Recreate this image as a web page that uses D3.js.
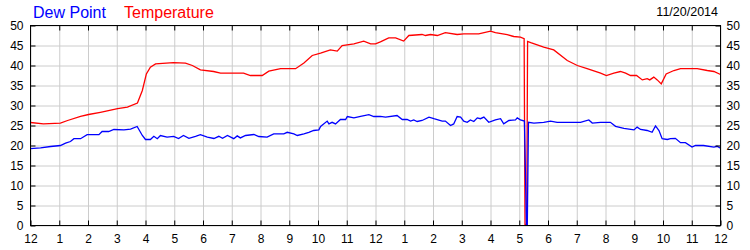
<!DOCTYPE html>
<html>
<head>
<meta charset="utf-8">
<title>Dew Point / Temperature</title>
<script src="https://cdn.jsdelivr.net/npm/d3@7"></script>
<style>
body { margin: 0; background: #fff; }
svg text { font-family: "Liberation Sans", Arial, sans-serif; fill: #000; }
</style>
</head>
<body>
<script>
// hour labels along the bottom (midnight to midnight)
var hourLabels = ["12","1","2","3","4","5","6","7","8","9","10","11",
                  "12","1","2","3","4","5","6","7","8","9","10","11","12"];
var yTicks = [0, 5, 10, 15, 20, 25, 30, 35, 40, 45, 50];
var dateLabel = "11/20/2014";

// [hour of day, °F]
var temperature = [
  [0.00,25.75],[0.45,25.4],[1.04,25.6],[1.29,26.25],[1.74,27.3],[2.02,27.75],
  [2.43,28.3],[3.03,29.2],[3.37,29.6],[3.72,30.6],[3.89,33.75],[4.03,37.9],
  [4.17,39.6],[4.35,40.4],[4.97,40.7],[5.39,40.6],[5.63,40.0],[5.91,38.9],
  [6.37,38.5],[6.61,38.1],[7.41,38.1],[7.65,37.5],[8.06,37.5],[8.29,38.6],
  [8.70,39.2],[9.22,39.2],[9.51,40.6],[9.80,42.5],[10.09,43.1],[10.43,43.9],
  [10.67,43.6],[10.84,45.0],[11.25,45.4],[11.59,46.1],[11.83,45.4],[12.00,45.4],
  [12.17,45.9],[12.46,46.9],[12.70,46.9],[12.98,46.1],[13.16,47.5],[13.62,47.75],
  [13.74,47.5],[13.91,47.75],[14.15,47.5],[14.43,48.2],[14.84,47.75],[15.07,47.9],
  [15.59,47.9],[16.00,48.6],[16.17,48.2],[16.58,47.7],[16.81,47.25],[17.04,47.1],
  [17.17,46.7],[17.20,0.3],[17.26,0.3],[17.29,46.0],[17.40,45.7],[17.85,44.6],
  [18.20,43.9],[18.67,41.25],[19.02,40.0],[19.36,39.2],[19.83,38.1],[20.03,37.5],
  [20.29,38.1],[20.52,38.5],[20.70,38.1],[20.87,37.5],[21.08,37.5],[21.28,36.4],
  [21.45,36.7],[21.54,36.4],[21.68,37.1],[21.80,36.4],[21.94,35.4],[22.11,37.9],
  [22.38,38.75],[22.61,39.2],[23.19,39.2],[23.54,38.75],[23.77,38.5],[24.00,37.75]
];

var dewPoint = [
  [0.00,19.2],[0.35,19.4],[0.70,19.75],[1.04,20.0],[1.22,20.6],[1.39,21.0],
  [1.51,21.7],[1.74,21.7],[1.97,22.7],[2.38,22.7],[2.49,23.5],[2.72,23.5],
  [2.90,24.0],[3.25,23.9],[3.48,24.1],[3.71,24.75],[3.89,22.5],[4.00,21.5],
  [4.17,21.5],[4.29,22.3],[4.41,21.7],[4.52,22.5],[4.75,22.1],[4.98,22.3],
  [5.15,21.75],[5.32,22.5],[5.51,21.8],[5.74,22.3],[5.91,22.7],[6.15,22.1],
  [6.38,21.75],[6.55,22.3],[6.68,21.8],[6.85,22.5],[7.07,21.7],[7.19,22.4],
  [7.30,21.9],[7.48,22.5],[7.77,22.75],[7.94,22.25],[8.23,22.1],[8.46,22.9],
  [8.81,22.9],[8.93,23.3],[9.16,22.9],[9.28,22.5],[9.51,22.9],[9.68,23.3],
  [9.85,23.75],[10.03,23.9],[10.09,24.75],[10.32,26.1],[10.38,25.4],[10.49,25.8],
  [10.61,25.4],[10.78,26.5],[10.96,26.5],[11.02,27.25],[11.25,26.9],[11.48,27.3],
  [11.77,27.7],[11.94,27.25],[12.17,27.3],[12.35,27.1],[12.75,27.5],[12.93,26.5],
  [13.10,26.5],[13.22,26.1],[13.33,26.4],[13.45,26.0],[13.62,26.25],[13.86,27.1],
  [14.03,26.7],[14.32,26.1],[14.43,26.1],[14.61,25.0],[14.72,25.4],[14.84,27.25],
  [14.96,27.1],[15.07,26.1],[15.19,25.8],[15.30,26.4],[15.42,26.0],[15.54,26.9],
  [15.65,26.7],[15.77,27.1],[15.94,25.8],[16.17,26.4],[16.35,26.7],[16.46,25.4],
  [16.64,26.25],[16.87,26.4],[16.93,26.9],[17.04,26.4],[17.18,26.1],[17.25,0.2],
  [17.28,0.2],[17.32,25.8],[17.51,25.6],[17.85,25.8],[18.09,26.1],[18.32,25.8],
  [18.67,25.8],[19.13,25.8],[19.42,26.4],[19.54,25.6],[19.83,25.8],[20.17,25.8],
  [20.35,24.8],[20.64,24.3],[20.99,23.9],[21.10,24.6],[21.22,24.0],[21.45,23.75],
  [21.62,23.3],[21.74,24.9],[21.86,23.75],[21.97,21.7],[22.15,21.5],[22.26,21.7],
  [22.43,21.8],[22.61,20.7],[22.78,20.7],[23.01,19.6],[23.13,20.0],[23.41,20.0],
  [23.77,19.6],[23.88,19.8],[24.00,19.3]
];

var width = 750, height = 250;
var margin = {top: 25, right: 30, bottom: 25, left: 30};
var innerW = width - margin.left - margin.right,
    innerH = height - margin.top - margin.bottom;

var svg = d3.select("body").append("svg")
  .attr("width", width)
  .attr("height", height);

var x = d3.scaleLinear().domain([0, 24]).range([0, innerW]);
var y = d3.scaleLinear().domain([0, 50]).range([innerH, 0]);

var g = svg.append("g")
  .attr("transform", "translate(" + (margin.left + 0.5) + "," + (margin.top + 0.5) + ")");

// grid
g.append("g")
  .attr("class", "grid")
  .call(d3.axisBottom(x).tickValues(d3.range(0, 25)).tickSize(innerH).tickFormat(""))
  .call(function(s){ s.select(".domain").remove(); })
  .selectAll("line").attr("stroke", "#cccccc");
g.append("g")
  .attr("class", "grid")
  .call(d3.axisLeft(y).tickValues(yTicks).tickSize(-innerW).tickFormat(""))
  .call(function(s){ s.select(".domain").remove(); })
  .selectAll("line").attr("stroke", "#cccccc");

// lines
var line = d3.line()
  .x(function(d){ return x(d[0]); })
  .y(function(d){ return y(d[1]); });

g.append("path")
  .datum(temperature)
  .attr("fill", "none")
  .attr("stroke", "#ff0000")
  .attr("stroke-width", 1.3)
  .attr("d", line);

g.append("path")
  .datum(dewPoint)
  .attr("fill", "none")
  .attr("stroke", "#0000ff")
  .attr("stroke-width", 1.3)
  .attr("d", line);

// frame
g.append("rect")
  .attr("width", innerW)
  .attr("height", innerH)
  .attr("fill", "none")
  .attr("stroke", "#000");

// axes, ticks pointing inward
function styleAxis(s) {
  s.attr("font-size", 12).attr("font-family", null);
  s.select(".domain").remove();
  s.selectAll("line").attr("stroke", "#000");
  s.selectAll("text").attr("fill", "#000");
}

g.append("g")
  .attr("transform", "translate(0," + innerH + ")")
  .call(d3.axisBottom(x).tickValues(d3.range(0, 25)).tickSize(-5).tickSizeOuter(0)
    .tickPadding(9).tickFormat(function(i){ return hourLabels[i]; }))
  .call(styleAxis);

g.append("g")
  .call(d3.axisTop(x).tickValues(d3.range(1, 24)).tickSize(-5).tickSizeOuter(0).tickFormat(""))
  .call(styleAxis);

g.append("g")
  .call(d3.axisLeft(y).tickValues(yTicks).tickSize(-5).tickSizeOuter(0).tickPadding(7))
  .call(styleAxis);

g.append("g")
  .attr("transform", "translate(" + innerW + ",0)")
  .call(d3.axisRight(y).tickValues(yTicks).tickSize(-5).tickSizeOuter(0).tickPadding(6))
  .call(styleAxis);

// legend titles
var title = svg.append("text")
  .attr("x", 33)
  .attr("y", 18)
  .attr("font-size", 16);
title.append("tspan").attr("fill", "#0000ff").style("fill", "#0000ff").text("Dew Point");
title.append("tspan").attr("x", 124).attr("fill", "#ff0000").style("fill", "#ff0000").text("Temperature");

svg.append("text")
  .attr("x", 718)
  .attr("y", 16)
  .attr("text-anchor", "end")
  .attr("font-size", 12.5)
  .text(dateLabel);
</script>
</body>
</html>
